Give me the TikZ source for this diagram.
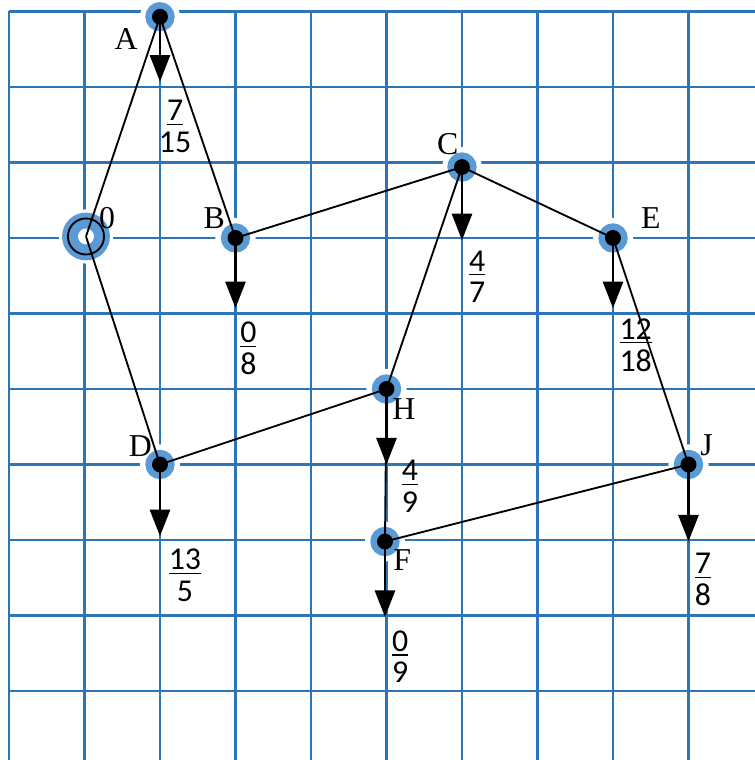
\documentclass[tikz,border=0pt]{standalone}
\usepackage{fontspec}
\setmainfont{Liberation Serif}
\newfontfamily\fracfont{Carlito}
\usepackage{tikz}
\usetikzlibrary{calc}
\usetikzlibrary{arrows.meta}
\definecolor{gridblue}{RGB}{46,117,182}
\definecolor{haloblue}{RGB}{91,155,213}

\begin{document}
\begin{tikzpicture}[x=1cm, y=-1cm,
  every node/.style={font=\fontsize{12}{12}\selectfont},
  gridline/.style={gridblue, line width=1.1pt},
  dot/.style={circle, fill=black, inner sep=0pt, minimum size=6pt,
              preaction={draw=white, line width=9pt},
              preaction={draw=haloblue, line width=5pt}},
  ring/.style={circle, draw=black, fill=haloblue, line width=0.7pt,
               inner sep=0pt, minimum size=13.6pt,
               preaction={draw=white, fill=white, line width=6.8pt},
               preaction={draw=haloblue, line width=4.4pt},
               path picture={\fill[white] (path picture bounding box.center) circle (3pt);}},
  link/.style={line width=0.7pt},
  flow/.style={-{Triangle[length=10pt, width=7.5pt]}, line width=1.1pt},
  tag/.style={inner sep=0pt},
  frac/.style={font=\fracfont\fontsize{12}{12}\selectfont, inner sep=0pt,
               anchor=north, align=center}]

\useasboundingbox (-0.119,-0.152) rectangle (9.881,9.914);

% grid
\foreach \i in {0,...,9}
  \draw[gridline] (\i,0) -- (\i,9.914);
\foreach \j in {0,...,9}
  \draw[gridline] (0,\j) -- (9.881,\j);

% vertices
\node[dot]  (A) at (2,0.07) {};
\node[ring] (O) at (1.02,2.98) {};
\node[dot]  (B) at (3,3) {};
\node[dot]  (C) at (6,2.06) {};
\node[dot]  (E) at (8,3) {};
\node[dot]  (H) at (5,5) {};
\node[dot]  (D) at (2,6) {};
\node[dot]  (J) at (9,6) {};
\node[dot]  (F) at (4.98,7.02) {};

% edges
\draw[link] (A.center) -- (O.center);
\draw[link] (A.center) -- (B.center);
\draw[link] (O.center) -- (D.center);
\draw[link] (B.center) -- (C.center);
\draw[link] (C.center) -- (E.center);
\draw[link] (C.center) -- (H.center);
\draw[link] (H.center) -- (D.center);
\draw[link] (E.center) -- (J.center);
\draw[link] (J.center) -- (F.center);
\draw[link] (H.center) -- (F.center);

% outflow arrows
\foreach \v/\len in {A/0.86, B/0.93, C/0.97, E/0.93, H/1.0, D/0.95, J/1.02, F/1.0} {
  \coordinate (\v-out) at ($(\v)+(0,\len)$);
  \draw[flow] (\v.center) -- (\v-out);
}

% vertex names
\node[tag] (lA) at ($(A)+(-0.45,0.30)$) {A};
\node[tag] (lO) at ($(O)+(0.28,-0.25)$) {0};
\node[tag] (lB) at ($(B)+(-0.28,-0.26)$) {B};
\node[tag] (lC) at ($(C)+(-0.19,-0.31)$) {C};
\node[tag] (lE) at ($(E)+(0.50,-0.26)$) {E};
\node[tag] (lH) at ($(H)+(0.23,0.26)$) {H};
\node[tag] (lD) at ($(D)+(-0.26,-0.24)$) {D};
\node[tag] (lJ) at ($(J)+(0.24,-0.25)$) {J};
\node[tag] (lF) at ($(F)+(0.23,0.24)$) {F};

% fractions
\node[frac] (qA) at ($(A)+(0.20,1.10)$) {\underline{7}\\15};
\node[frac] (qB) at ($(B)+(0.17,1.11)$) {\underline{0}\\8};
\node[frac] (qC) at ($(C)+(0.20,1.10)$) {\underline{4}\\7};
\node[frac] (qE) at ($(E)+(0.30,1.06)$) {\underline{12}\\18};
\node[frac] (qH) at ($(H)+(0.31,0.94)$) {\underline{4}\\9};
\node[frac] (qD) at ($(D)+(0.33,1.11)$) {\underline{13}\\5};
\node[frac] (qJ) at ($(J)+(0.19,1.17)$) {\underline{7}\\8};
\node[frac] (qF) at ($(F)+(0.20,1.17)$) {\underline{0}\\9};
\end{tikzpicture}
\end{document}
